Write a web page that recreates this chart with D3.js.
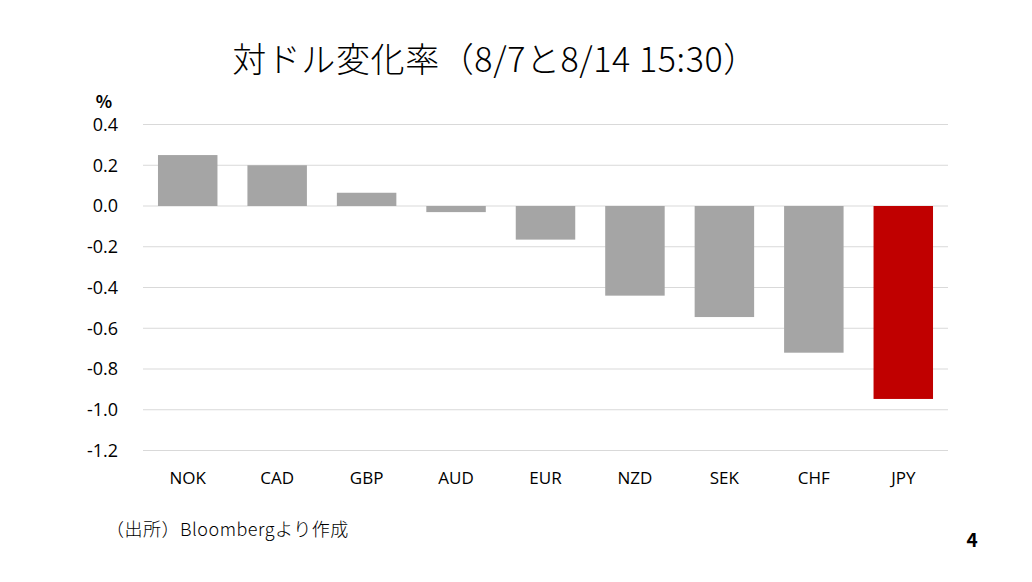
<!DOCTYPE html>
<html>
<head>
<meta charset="utf-8">
<script src="https://cdn.jsdelivr.net/npm/d3@7"></script>
<style>
  body { margin: 0; background: #fff; }
  text { font-family: "Noto Sans CJK JP", "Noto Sans", sans-serif; }
</style>
</head>
<body>
<svg id="chart"></svg>
<script>
const categories = ["NOK", "CAD", "GBP", "AUD", "EUR", "NZD", "SEK", "CHF", "JPY"];
const values = [0.25, 0.20, 0.065, -0.03, -0.165, -0.44, -0.545, -0.72, -0.947];
const yTicks = [0.4, 0.2, 0.0, -0.2, -0.4, -0.6, -0.8, -1.0, -1.2];

const width = 1032;
const height = 582;
const svg = d3.select("#chart").attr("width", width).attr("height", height);

const x = d3.scaleBand()
    .domain(categories)
    .range([143, 948])
    .paddingInner(0.335)
    .paddingOuter(0.1675);

const y = d3.scaleLinear()
    .domain([-1.2, 0.4])
    .range([450.5, 124.5]);

// gridlines
svg.append("g")
    .selectAll("line")
    .data(yTicks)
    .enter()
    .append("line")
    .attr("x1", 143)
    .attr("x2", 948)
    .attr("y1", (d) => y(d))
    .attr("y2", (d) => y(d))
    .attr("stroke", "#d9d9d9")
    .attr("stroke-width", 1);

// bars
svg.append("g")
    .selectAll("rect")
    .data(categories)
    .enter()
    .append("rect")
    .attr("x", (d) => x(d))
    .attr("width", x.bandwidth())
    .attr("y", (d, i) => y(Math.max(0, values[i])))
    .attr("height", (d, i) => Math.abs(y(values[i]) - y(0)))
    .attr("fill", (d) => d === "JPY" ? "#c00000" : "#a5a5a5");

// y axis labels (plain hyphen like the original)
const yAxis = svg.append("g")
    .attr("transform", "translate(143,0)")
    .call(d3.axisLeft(y).tickValues(yTicks)
        .tickFormat((d) => d3.format(".1f")(d).replace("−", "-"))
        .tickSize(0).tickPadding(25));
yAxis.select(".domain").remove();
yAxis.selectAll("text")
    .attr("font-size", 18)
    .attr("fill", "#000")
    .style("font-family", "'Open Sans', 'Noto Sans', sans-serif");

// x axis labels
const xAxis = svg.append("g")
    .attr("transform", "translate(0,450.5)")
    .call(d3.axisBottom(x).tickSize(0).tickPadding(21));
xAxis.select(".domain").remove();
xAxis.selectAll("text")
    .attr("font-size", 17)
    .attr("fill", "#000")
    .style("font-family", "'Open Sans', 'Noto Sans', sans-serif");

// unit
svg.append("text")
    .attr("x", 104)
    .attr("y", 108)
    .attr("text-anchor", "middle")
    .attr("font-size", 17)
    .attr("font-weight", "bold")
    .text("%");

// title
svg.append("text")
    .attr("x", 495)
    .attr("y", 72)
    .attr("text-anchor", "middle")
    .attr("font-size", 34)
    .attr("font-weight", 300)
    .attr("letter-spacing", 0.6)
    .text("対ドル変化率（8/7と8/14 15:30）");

// source
svg.append("text")
    .attr("x", 106)
    .attr("y", 536)
    .attr("font-size", 18)
    .attr("font-weight", 300)
    .attr("letter-spacing", 0.5)
    .text("（出所）Bloombergより作成");

// page number
svg.append("text")
    .attr("x", 972)
    .attr("y", 547)
    .attr("text-anchor", "middle")
    .attr("font-size", 19)
    .attr("font-weight", "bold")
    .text("4");
</script>
</body>
</html>
